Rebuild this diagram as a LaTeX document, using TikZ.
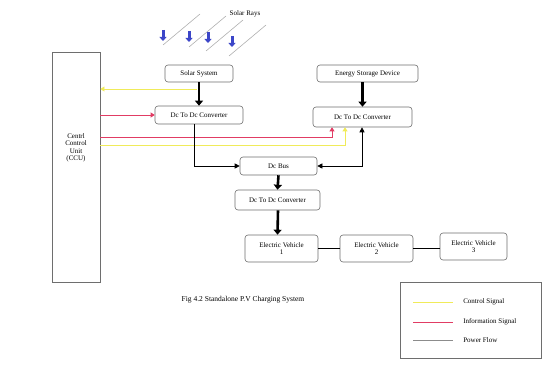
\documentclass[tikz,border=0pt]{standalone}
\usepackage{fontspec}
\setmainfont{Liberation Serif}
\usetikzlibrary{arrows.meta,calc}
\definecolor{ctrl}{RGB}{240,235,90}
\definecolor{info}{RGB}{225,60,100}
\definecolor{pow}{RGB}{140,140,140}
\definecolor{edge}{RGB}{110,110,110}
\definecolor{ray}{RGB}{60,70,200}
\tikzset{
  box/.style={draw=edge, line width=0.6pt, rounded corners=3pt, fill=white, align=center, font=\fontsize{7}{7.5}\selectfont, inner sep=1pt},
  thickarrow/.style={line width=2.6pt, -{Triangle[length=5pt,width=8pt]}},
  thin/.style={line width=0.6pt},
  smalltip/.style={-{Triangle[length=4pt,width=5pt]}},
  rayline/.style={draw=pow!70, line width=0.6pt},
  rayarrow/.style={draw=ray, line width=3pt, -{Triangle[length=4pt,width=7pt]}, ray},
  lbl/.style={font=\fontsize{7}{8}\selectfont, inner sep=0pt},
}
\begin{document}
\begin{tikzpicture}[x=1pt,y=-1pt]
\useasboundingbox (0,0) rectangle (543,374);
% solar rays
\draw[rayline] (163,45) -- (200,14);
\draw[rayline] (189,47) -- (226,16);
\draw[rayline] (206,51) -- (243,20);
\draw[rayline] (229,56) -- (266,25);
\draw[rayarrow] (163,30) -- (163,41);
\draw[rayarrow] (189,31) -- (189,42);
\draw[rayarrow] (208,32) -- (208,43);
\draw[rayarrow] (232,36) -- (232,47);
\node[lbl] (rays) at (245,14) {Solar Rays};
% control unit
\node[draw=edge, line width=0.8pt, minimum width=48pt, minimum height=230pt, inner sep=0pt] (ccu) at (76,167) {};
\node[lbl, align=center, font=\fontsize{7}{7.5}\selectfont] (ccutext) at (76,148) {Centrl\\Control\\Unit\\(CCU)};
% boxes
\node[box, minimum width=68pt, minimum height=17pt] (solar) at (199,73.5) {Solar System};
\node[box, minimum width=88pt, minimum height=18pt] (conv1) at (199,115) {Dc To Dc Converter};
\node[box, minimum width=101pt, minimum height=17pt] (esd) at (367.5,73.5) {Energy Storage Device};
\node[box, minimum width=99pt, minimum height=20pt] (conv2) at (362.5,117) {Dc To Dc Converter};
\node[box, minimum width=77pt, minimum height=18pt] (bus) at (278.5,166) {Dc Bus};
\node[box, minimum width=85pt, minimum height=20pt] (conv3) at (277.5,200) {Dc To Dc Converter};
\node[box, minimum width=73pt, minimum height=27pt] (ev1) at (281.5,248.5) {Electric Vehicle\\1};
\node[box, minimum width=73pt, minimum height=27pt] (ev2) at (376.5,248.5) {Electric Vehicle\\2};
\node[box, minimum width=67pt, minimum height=27pt] (ev3) at (473.5,246.5) {Electric Vehicle\\3};
% signal lines
\coordinate (ys) at (197,89);
\draw[ctrl, thin, smalltip] (ys) -- (ys -| ccu.east);
\draw[info, thin, smalltip] (ccu.east |- conv1.west) -- (conv1.west);
\coordinate (r2) at (332,137);
\draw[info, thin, smalltip] (r2 -| ccu.east) -- (r2) -- (r2 |- conv2.south);
\coordinate (y2) at (345,145);
\draw[ctrl, thin, smalltip] (y2 -| ccu.east) -- (y2) -- (y2 |- conv2.south);
% power flow
\draw[thickarrow] (solar.south) -- (conv1.north);
\draw[thickarrow] (conv2.north |- esd.south) -- (conv2.north);
\draw[thickarrow] (bus.south) -- (conv3.north);
\draw[thickarrow] ([xshift=0.5pt]conv3.south) -- (conv3.south |- ev1.north);
\draw[thin, -{Triangle[length=5pt,width=5pt]}] ([xshift=-5pt]conv1.south) |- (bus.west);
\coordinate (c2b) at ([xshift=-0.5pt]conv2.south);
\draw[thin, {Triangle[length=5pt,width=5pt]}-{Triangle[length=5pt,width=5pt]}] (bus.east) -| (c2b);
\draw[thin] (ev1.east) -- (ev2.west);
\draw[thin] (ev2.east) -- (ev2.east -| ev3.west);
% caption
\node[lbl, font=\fontsize{7.5}{8}\selectfont] (cap) at (243,300) {Fig 4.2 Standalone P.V Charging System};
% legend
\node[draw=edge, line width=0.6pt, minimum width=141pt, minimum height=76pt, inner sep=0pt] (legend) at (471,320) {};
\coordinate (l1) at (413,302);
\coordinate (l2) at (413,322);
\coordinate (l3) at (413,340);
\draw[ctrl, thin] (l1) -- ++(40,0) node[lbl, text=black, anchor=west, xshift=10pt] (t1) {Control Signal};
\draw[info, thin] (l2) -- ++(40,0) node[lbl, text=black, anchor=west, xshift=10pt] (t2) {Information Signal};
\draw[pow, thin] (l3) -- ++(40,0) node[lbl, text=black, anchor=west, xshift=10pt] (t3) {Power Flow};
\end{tikzpicture}
\end{document}
